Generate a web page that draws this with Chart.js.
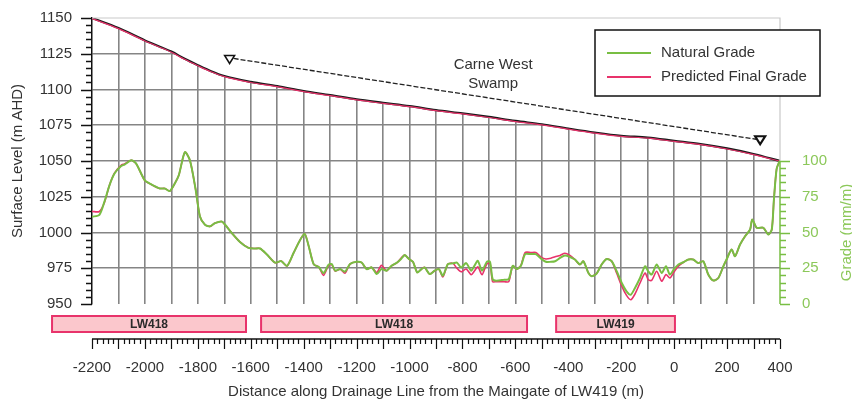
<!DOCTYPE html>
<html><head><meta charset="utf-8">
<script src="https://cdn.jsdelivr.net/npm/chart.js@4/dist/chart.umd.min.js"></script>
<style>html,body{margin:0;padding:0;background:#fff}#wrap{width:852px;height:401px}</style>
</head><body><div id="wrap"><canvas id="c" width="852" height="401"></canvas></div>
<script>
// ---------------- DATA ----------------
const xTitle = 'Distance along Drainage Line from the Maingate of LW419 (m)';
const yTitle = 'Surface Level (m AHD)';
const y2Title = 'Grade (mm/m)';
const legendLabels = ['Natural Grade', 'Predicted Final Grade'];

const xGridValues = [-2200,-2100,-2000,-1900,-1800,-1700,-1600,-1500,-1400,-1300,-1200,-1100,-1000,-900,-800,-700,-600,-500,-400,-300,-200,-100,0,100,200,300,400];
const xLabelValues = [-2200,-2000,-1800,-1600,-1400,-1200,-1000,-800,-600,-400,-200,0,200,400];
const yTickValues = [950,975,1000,1025,1050,1075,1100,1125,1150];
const gradeTickValues = [0,25,50,75,100];

// surface level profile (m AHD)
const elevX = [-2200,-2100,-2000,-1900,-1850,-1800,-1750,-1700,-1600,-1500,-1400,-1300,-1200,-1100,-1000,-900,-800,-700,-600,-500,-400,-300,-200,-100,0,100,200,300,400];
const naturalSurface   = [1150,1143,1134.3,1126.5,1121.5,1117,1112.8,1109.4,1105.3,1102.4,1098.9,1096.1,1093.1,1090.7,1088.4,1085.6,1083.3,1080.8,1078,1075.7,1072.7,1069.9,1067.6,1066.4,1064.1,1061.8,1058.8,1054.9,1050];
const predictedSurface = [1149.6,1142.6,1133.9,1126.1,1121.1,1116.6,1112.4,1109,1104.9,1102,1098.5,1095.7,1092.7,1090.3,1088,1085.2,1082.9,1080.4,1077.6,1075.3,1072.3,1069.5,1067.2,1066,1063.7,1061.4,1058.4,1054.5,1049.8];

// grade profile (mm/m)
const gradeX = [-2200,-2172,-2153,-2134,-2115,-2090,-2077,-2052,-2033,-2001,-1976,-1944,-1925,-1906,-1887,-1872,-1849,-1830,-1809,-1792,-1773,-1754,-1735,-1710,-1697,-1672,-1641,-1609,-1584,-1565,-1539,-1508,-1485,-1463,-1438,-1413,-1396,-1381,-1362,-1343,-1325,-1306,-1294,-1281,-1262,-1244,-1225,-1200,-1181,-1162,-1143,-1124,-1106,-1087,-1068,-1047,-1030,-1018,-1002,-987,-971,-955,-943,-924,-905,-889,-874,-855,-836,-821,-805,-786,-767,-755,-742,-726,-708,-696,-686,-673,-642,-625,-610,-595,-579,-563,-541,-523,-504,-485,-466,-450,-431,-413,-394,-375,-356,-343,-324,-312,-293,-274,-255,-236,-217,-198,-180,-164,-148,-129,-110,-98,-85,-66,-47,-31,-16,0,16,35,54,72,91,110,129,148,167,186,198,217,230,249,268,287,295,312,337,356,369,377,387,397,400];
const naturalGrade = [61,62.4,71.6,83,91.2,96.5,97.5,100.5,98.2,86.6,83.6,80.8,80.8,79,84.3,90,106.2,100.5,80.8,61.2,55.4,54.3,56.6,57.7,55.4,49.7,43.4,39.3,38.8,38.8,34.6,28.9,30,26.6,35.8,45,49,40.4,27.7,25.9,21.6,27.5,27.9,23.3,24.4,22.6,27.9,29.5,29,24.4,25.6,20.9,24.4,23.3,26.7,29,31.9,34.2,31.4,29.5,22.1,24.4,25.6,20.9,23.3,24.4,19.8,27.9,28.4,29,25.6,28.6,23.3,26.7,30.2,23.3,29.5,29.5,17.4,16.3,17,17.4,26.7,24.4,26.7,34.9,34.9,34.9,31.9,29.5,29.5,29.9,32.2,33.9,32.9,31.1,27.6,29.9,21.7,19.4,21.3,27.6,31.5,29.9,22.9,14.7,8.9,6.5,11.2,18.2,26.4,22.9,20.6,27.6,21.7,26.4,20.6,24.5,27.6,29.2,31.1,31.1,28.7,29.9,20.6,16.4,18.2,26.4,31.1,38.1,33.4,41.6,47.4,52.1,59.1,53.3,53.3,48.6,52.1,73.1,94.2,99.3,100];
const predictedGrade = [64.7,64.7,71,83,91.5,97,98,100.5,98,86.6,83.6,80.8,80.8,79,84.3,90,106.2,100.5,80.8,61.2,55.4,54.3,56.6,57.7,55.4,49.7,43.4,39.3,38.8,38.8,34.6,28.9,30,26.6,35.8,45,49,40.4,27.7,25.9,20,27,27.5,23,24.4,21.5,27.9,29.5,29,24.4,25.6,22,27,23.3,26.7,29,32.5,34.2,31.4,29.5,22.1,24.4,25.6,20.9,23.3,24.4,19,27.9,28.4,25,22.5,24.5,20.5,23,26,20.5,28,28.5,15.6,15.6,15.6,15.6,26.7,24.4,27,36,36,36,33,31.5,32,33,34,35.5,34,31.1,27.6,29.9,21.7,19.4,21.3,27.6,31.5,29.9,21.5,12.5,6,3,7,14.7,21.7,17,16.5,22.9,15.9,20.6,18.2,22.5,26.5,29.2,31.1,31.1,28.7,29.9,20.6,16.4,18.2,26.4,31.1,38.1,33.4,41.6,47.4,52.1,59.1,53.3,53.3,48.6,52.1,73.1,94.2,99.3,100];

// longwall panels along the drainage line
const lwLabels = ['LW418','LW418','LW419'];
const lwStart = [-2351,-1561,-446];
const lwEnd   = [-1618,-556,3];

// Carne West Swamp extent
const swampLabel = ['Carne West','Swamp'];
const swampX = [-1680, 325];
const swampLevel = [1121, 1064.5];

// ---------------- STYLE ----------------
const FONT = "'Liberation Sans', Arial, Helvetica, sans-serif";
const GRID = '#858585';
const GREEN = '#78be43';
const GREEN_TXT = '#8cc85a';
const RED = '#e8336b';
Chart.defaults.font.family = FONT;
Chart.defaults.font.size = 15;
Chart.defaults.color = '#333';

const pts = (xs, ys) => xs.map((x, i) => ({x, y: ys[i]}));
const noPad = s => { s.paddingTop = 0; s.paddingBottom = 0; s.paddingLeft = 0; s.paddingRight = 0; };

const decor = {
  id: 'decor',
  afterDraw(chart) {
    const {ctx, chartArea: a, scales: {x, y, y2}} = chart;
    ctx.save();
    // light border top/right
    ctx.strokeStyle = '#c9c9c9'; ctx.lineWidth = 1.2;
    ctx.beginPath();
    ctx.moveTo(a.left, a.top); ctx.lineTo(a.right, a.top);
    ctx.lineTo(a.right, y2.getPixelForValue(gradeTickValues[gradeTickValues.length-1]));
    ctx.stroke();
    // green right axis
    const gTop = y2.getPixelForValue(gradeTickValues[gradeTickValues.length-1]);
    const gBot = y2.getPixelForValue(gradeTickValues[0]);
    ctx.strokeStyle = GREEN; ctx.lineWidth = 1.5;
    ctx.beginPath(); ctx.moveTo(a.right, gTop); ctx.lineTo(a.right, gBot); ctx.stroke();
    ctx.beginPath();
    for (let g = gradeTickValues[0]; g <= gradeTickValues[gradeTickValues.length-1]; g += 5) {
      const p = Math.round(y2.getPixelForValue(g)) + 0.5;
      const len = gradeTickValues.includes(g) ? 10 : 6;
      ctx.moveTo(a.right, p); ctx.lineTo(a.right + len, p);
    }
    ctx.stroke();
    // left minor/major ticks
    ctx.strokeStyle = '#111'; ctx.lineWidth = 1.3;
    ctx.beginPath();
    for (let v = yTickValues[0]; v <= yTickValues[yTickValues.length-1]; v += 5) {
      const p = Math.round(y.getPixelForValue(v)) + 0.5;
      const len = yTickValues.includes(v) ? 11 : 6;
      ctx.moveTo(a.left - len, p); ctx.lineTo(a.left, p);
    }
    ctx.stroke();
    // x axis line with ticks
    const axY = a.bottom + 35;
    const x0 = x.getPixelForValue(xGridValues[0]);
    const x1 = x.getPixelForValue(xGridValues[xGridValues.length-1]);
    ctx.lineWidth = 1.5;
    ctx.beginPath(); ctx.moveTo(x0, axY); ctx.lineTo(x1, axY); ctx.stroke();
    ctx.lineWidth = 1.2;
    ctx.beginPath();
    for (let v = xGridValues[0]; v <= xGridValues[xGridValues.length-1]; v += 20) {
      const p = Math.round(x.getPixelForValue(v)) + 0.5;
      const len = xGridValues.includes(v) ? 10 : 5;
      ctx.moveTo(p, axY); ctx.lineTo(p, axY + len);
    }
    ctx.stroke();
    // longwall bars
    lwLabels.forEach((lab, i) => {
      const l = x.getPixelForValue(lwStart[i]), r = x.getPixelForValue(lwEnd[i]);
      const t = a.bottom + 12, h = 16;
      ctx.fillStyle = '#fbc7cc'; ctx.fillRect(l, t, r - l, h);
      ctx.strokeStyle = RED; ctx.lineWidth = 2; ctx.strokeRect(l, t, r - l, h);
      ctx.fillStyle = '#2a2a2a'; ctx.font = 'bold 12px ' + FONT;
      ctx.textAlign = 'center'; ctx.textBaseline = 'middle';
      ctx.fillText(lab, (l + r) / 2, t + h / 2 + 1);
    });
    // swamp extent arrow
    const sx0 = x.getPixelForValue(swampX[0]), sy0 = y.getPixelForValue(swampLevel[0]);
    const sx1 = x.getPixelForValue(swampX[1]), sy1 = y.getPixelForValue(swampLevel[1]);
    ctx.strokeStyle = '#222'; ctx.lineWidth = 1.3; ctx.setLineDash([5, 2]);
    ctx.beginPath(); ctx.moveTo(sx0 + 4, sy0 - 1); ctx.lineTo(sx1 - 4, sy1 - 1); ctx.stroke();
    ctx.setLineDash([]);
    const tri = (cx, cy, w) => {
      ctx.beginPath(); ctx.moveTo(cx - 5, cy - 4); ctx.lineTo(cx + 5, cy - 4); ctx.lineTo(cx, cy + 4); ctx.closePath();
      ctx.fillStyle = '#fff'; ctx.fill(); ctx.lineWidth = w; ctx.strokeStyle = '#111'; ctx.stroke();
    };
    tri(sx0, sy0, 1.5); tri(sx1, sy1, 2.2);
    ctx.fillStyle = '#333'; ctx.font = '15px ' + FONT; ctx.textAlign = 'center'; ctx.textBaseline = 'middle';
    const tx = x.getPixelForValue(-684);
    ctx.fillText(swampLabel[0], tx, y.getPixelForValue(1117));
    ctx.fillText(swampLabel[1], tx, y.getPixelForValue(1103.8));
    // legend
    ctx.fillStyle = '#fff'; ctx.fillRect(595, 30, 225, 66);
    ctx.strokeStyle = '#111'; ctx.lineWidth = 1.5; ctx.strokeRect(595, 30, 225, 66);
    [GREEN, RED].forEach((c, i) => {
      const ly = 53 + i * 24;
      ctx.strokeStyle = c; ctx.lineWidth = 1.8;
      ctx.beginPath(); ctx.moveTo(607, ly); ctx.lineTo(651, ly); ctx.stroke();
      ctx.fillStyle = '#333'; ctx.textAlign = 'left'; ctx.textBaseline = 'middle';
      ctx.fillText(legendLabels[i], 661, ly);
    });
    // right axis title
    ctx.save();
    ctx.translate(847, y2.getPixelForValue(50));
    ctx.rotate(-Math.PI / 2);
    ctx.fillStyle = GREEN_TXT; ctx.textAlign = 'center'; ctx.textBaseline = 'middle';
    ctx.fillText(y2Title, 0, 0);
    ctx.restore();
    ctx.restore();
  }
};

new Chart(document.getElementById('c').getContext('2d'), {
  type: 'line',
  data: {
    datasets: [
      {label: legendLabels[0], data: pts(gradeX, naturalGrade), yAxisID: 'y2', borderColor: GREEN, borderWidth: 2, pointRadius: 0, tension: 0.25, order: 0},
      {label: legendLabels[1], data: pts(gradeX, predictedGrade), yAxisID: 'y2', borderColor: RED, borderWidth: 1.6, pointRadius: 0, tension: 0.25, order: 1},
      {label: 'Predicted surface', data: pts(elevX, predictedSurface), yAxisID: 'y', borderColor: RED, borderWidth: 1.2, pointRadius: 0, cubicInterpolationMode: 'monotone', order: 2},
      {label: 'Natural surface', data: pts(elevX, naturalSurface), yAxisID: 'y', borderColor: '#1a1a1a', borderWidth: 2.2, pointRadius: 0, cubicInterpolationMode: 'monotone', fill: 'end', backgroundColor: '#ffffff', order: 3}
    ]
  },
  options: {
    responsive: false, animation: false,
    layout: {padding: {top: 18, left: 0, right: 0, bottom: 0}},
    plugins: {legend: {display: false}, tooltip: {enabled: false}},
    scales: {
      x: {
        type: 'linear', min: xGridValues[0], max: xGridValues[xGridValues.length-1],
        afterBuildTicks: s => { s.ticks = xGridValues.map(v => ({value: v})); },
        ticks: {autoSkip: false, maxRotation: 0, padding: 55, color: '#333', callback: v => xLabelValues.includes(v) ? String(v) : ''},
        grid: {color: c => (c.tick && (c.tick.value === xGridValues[0] || c.tick.value === xGridValues[xGridValues.length-1])) ? 'rgba(0,0,0,0)' : GRID, lineWidth: 1.6, drawTicks: false},
        border: {display: false},
        title: {display: true, text: xTitle, color: '#333', padding: {top: 0, bottom: 0}},
        afterFit: s => { s.height = 97; noPad(s); }
      },
      y: {
        position: 'left', min: yTickValues[0], max: yTickValues[yTickValues.length-1],
        afterBuildTicks: s => { s.ticks = yTickValues.map(v => ({value: v})); },
        ticks: {padding: 20, color: '#333', callback: v => String(v)},
        grid: {color: c => (c.tick && (c.tick.value === yTickValues[0] || c.tick.value === yTickValues[yTickValues.length-1])) ? 'rgba(0,0,0,0)' : GRID, lineWidth: 1.6, drawTicks: false},
        border: {display: true, color: '#111', width: 1.5},
        title: {display: true, text: yTitle, color: '#333', padding: {top: 9, bottom: 0}},
        afterFit: s => { s.width = 92; noPad(s); }
      },
      y2: {
        position: 'right', min: 0, max: 200,
        afterBuildTicks: s => { s.ticks = gradeTickValues.map(v => ({value: v})); },
        ticks: {padding: 22, color: GREEN_TXT, callback: v => String(v)},
        grid: {display: false, drawTicks: false},
        border: {display: false},
        afterFit: s => { s.width = 72; noPad(s); }
      }
    }
  },
  plugins: [decor]
});
</script>
</body></html>
